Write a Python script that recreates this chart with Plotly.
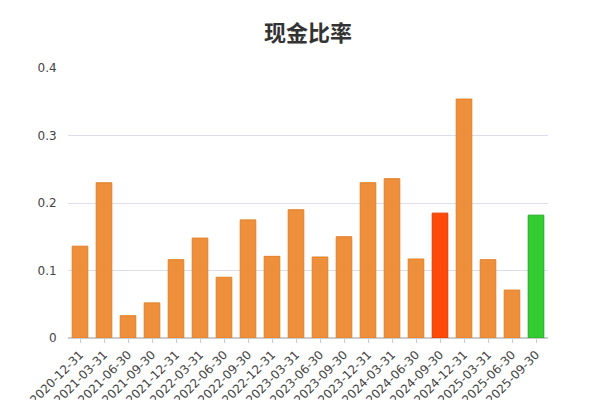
import plotly.graph_objects as go

dates = ["2020-12-31","2021-03-31","2021-06-30","2021-09-30","2021-12-31","2022-03-31","2022-06-30","2022-09-30","2022-12-31","2023-03-31","2023-06-30","2023-09-30","2023-12-31","2024-03-31","2024-06-30","2024-09-30","2024-12-31","2025-03-31","2025-06-30","2025-09-30"]
values = [0.136,0.230,0.033,0.052,0.116,0.148,0.090,0.175,0.121,0.190,0.120,0.150,0.230,0.236,0.117,0.185,0.354,0.116,0.071,0.182]
colors = ["#ED8F3B"]*len(values)
colors[15] = "#FF4A0A"
colors[19] = "#33CC33"
lines = ["#E0802A"]*len(values)
lines[15] = "#E03A00"
lines[19] = "#22AA22"

fig = go.Figure(go.Bar(x=dates, y=values, marker=dict(color=colors, line=dict(color=lines, width=1)), width=0.65))
fig.update_layout(
    width=600, height=400,
    title=dict(text="<b>现金比率</b>", x=0.5, y=0.955, xanchor="center", font=dict(size=22, color="#333", family="Noto Sans CJK SC")),
    margin=dict(l=60, r=60, t=60, b=70, autoexpand=False),
    plot_bgcolor="white", paper_bgcolor="white",
    showlegend=False,
    font=dict(family="DejaVu Sans", size=12, color="#444"),
)
fig.update_yaxes(range=[0,0.4], tickvals=[0,0.1,0.2,0.3,0.4], ticktext=["0","0.1","0.2","0.3","0.4"], gridcolor="#DDDDEE", zeroline=True, zerolinecolor="#CCCCCC", ticks="outside", ticklen=8, tickcolor="white", automargin=False)
fig.update_xaxes(type="category", tickangle=-45, showgrid=False, showline=True, linecolor="#CCCCCC", ticks="outside", tickcolor="#CCCCCC", ticklen=4, automargin=False)
fig.write_html("out.html")
